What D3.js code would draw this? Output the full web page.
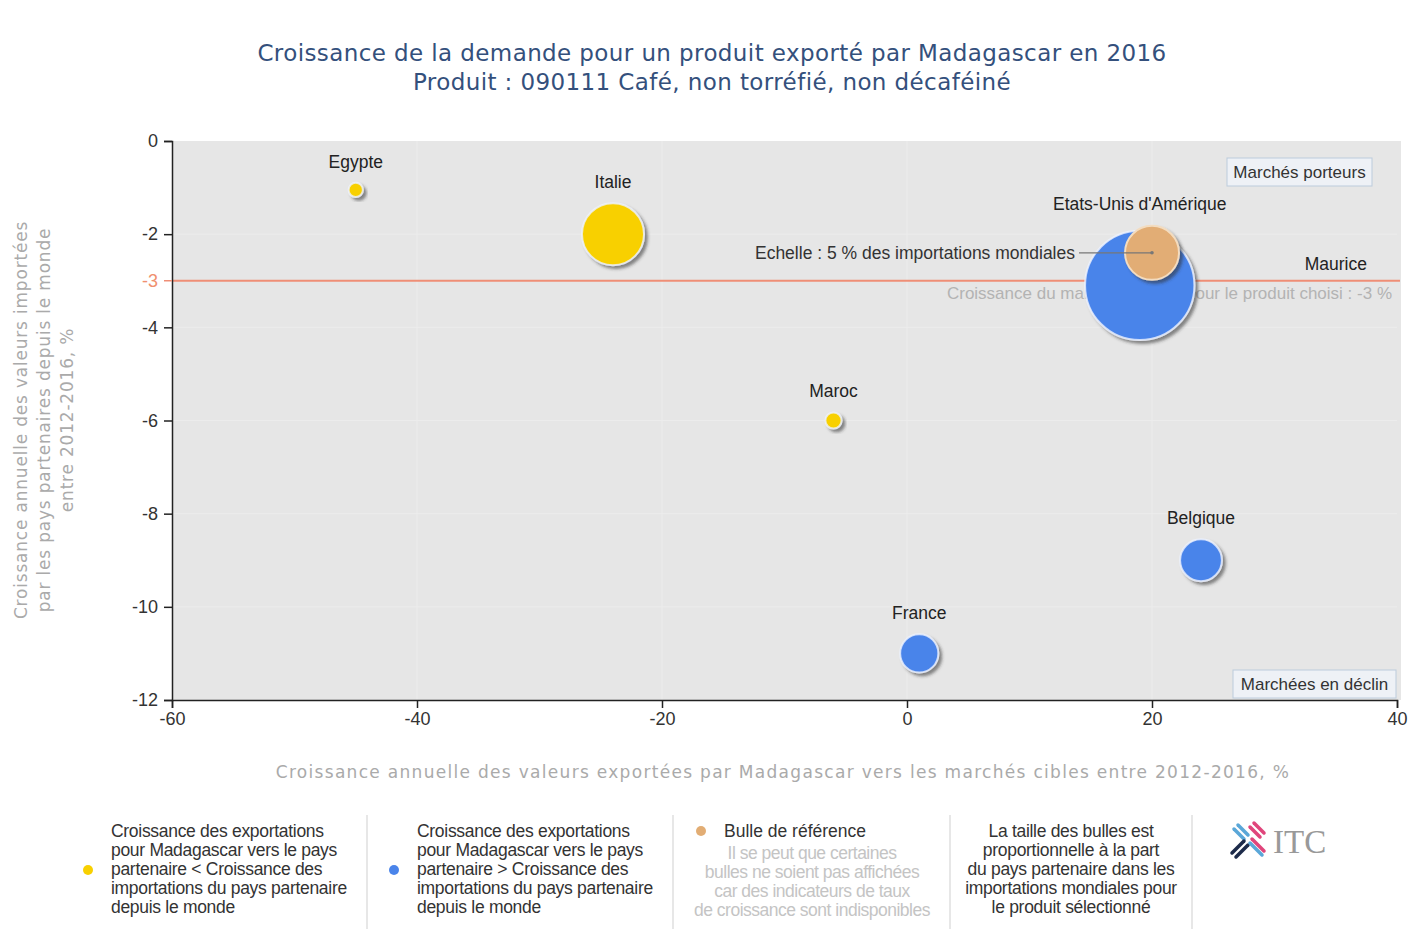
<!DOCTYPE html>
<html><head><meta charset="utf-8">
<script src="https://cdn.jsdelivr.net/npm/d3@7"></script>
<style>
body{margin:0;background:#fff;}
svg{display:block;}
</style></head>
<body><svg id="chart" width="1409" height="929"></svg>
<script>
// ---- data ----
const countries = ["Egypte","Italie","Maroc","Etats-Unis d'Amérique","Maurice","Belgique","France"];
const exportGrowth = [-45,-24,-6,19,35,24,1];          // x, %
const importGrowth = [-1.05,-2,-6,-3.1,-3.1,-9,-11];    // y, %
const worldShare   = [0.35,6.6,0.45,20.5,0,3,2.5];      // % of world imports
const group        = ["lower","lower","lower","higher","higher","higher","higher"];
const refBubble = {x:20, y:-2.4, share:5};
const worldGrowth = -3;
const xTicks = [-60,-40,-20,0,20,40];
const yTicks = [0,-2,-4,-6,-8,-10,-12];
const titleLines = ["Croissance de la demande pour un produit exporté par Madagascar en 2016","Produit : 090111 Café, non torréfié, non décaféiné"];
const xTitle = "Croissance annuelle des valeurs exportées par Madagascar vers les marchés cibles entre 2012-2016, %";
const yTitleLines = ["Croissance annuelle des valeurs importées","par les pays partenaires depuis le monde","entre 2012-2016, %"];

const svg = d3.select("#chart");
const font = "'Liberation Sans', Arial, sans-serif";
const wide = "'DejaVu Sans', Verdana, sans-serif";
const L=172,R=1397,T=141,B=700;
const x = d3.scaleLinear().domain([-60,40]).range([L,R]);
const y = d3.scaleLinear().domain([0,-12]).range([T,B]);
const r = d3.scaleSqrt().domain([0,5]).range([0,27]);
const colors = {lower:"#f8d000", higher:"#4a84ea", ref:"#e2ad74"};
const fmt = d => String(d);

const defs = svg.append("defs");
const f = defs.append("filter").attr("id","sh").attr("x","-30%").attr("y","-30%").attr("width","160%").attr("height","160%");
f.append("feDropShadow").attr("dx",3).attr("dy",3).attr("stdDeviation",1.8).attr("flood-color","#333").attr("flood-opacity",0.55);

// title
svg.append("g").selectAll("text").data(titleLines).join("text")
  .attr("x",712).attr("y",(d,i)=>61+i*29).attr("text-anchor","middle")
  .attr("font-family",wide).attr("font-size",23).attr("letter-spacing",0.4)
  .attr("fill","#34507c").text(d=>d);

// plot bg
svg.append("rect").attr("x",L).attr("y",T).attr("width",R-L+4).attr("height",B-T).attr("fill","#e6e6e6");
// faint grid
const g = svg.append("g");
g.selectAll("line.gx").data(xTicks.slice(1,-1)).join("line")
  .attr("x1",d=>x(d)).attr("x2",d=>x(d)).attr("y1",T).attr("y2",B).attr("stroke","#ececec").attr("stroke-width",1);
g.selectAll("line.gy").data(yTicks.slice(1,-1)).join("line")
  .attr("x1",L).attr("x2",R).attr("y1",d=>y(d)).attr("y2",d=>y(d)).attr("stroke","#ececec").attr("stroke-width",1);

// world growth line
svg.append("line").attr("x1",L).attr("x2",R+3).attr("y1",y(worldGrowth)).attr("y2",y(worldGrowth))
  .attr("stroke","#ef8e76").attr("stroke-width",2);
svg.append("text").attr("x",1392).attr("y",y(worldGrowth)+18).attr("text-anchor","end")
  .attr("font-family",font).attr("font-size",17).attr("fill","#b3b3b3")
  .text("Croissance du marché mondial pour le produit choisi : -3 %");

// quadrant labels
function box(txt,x0,y0,w,h){
  svg.append("rect").attr("x",x0).attr("y",y0).attr("width",w).attr("height",h)
    .attr("fill","#eef1f6").attr("stroke","#bccbdc").attr("stroke-width",1);
  svg.append("text").attr("x",x0+w/2).attr("y",y0+h/2+6).attr("text-anchor","middle")
    .attr("font-family",font).attr("font-size",17).attr("fill","#333").text(txt);
}
box("Marchés porteurs",1227,158,145,28);
box("Marchées en déclin",1233,670,163,28);

// bubbles
const data = countries.map((c,i)=>({name:c,x:exportGrowth[i],y:importGrowth[i],s:worldShare[i],g:group[i]}));
const bub = svg.append("g");
bub.selectAll("circle").data(data.filter(d=>d.s>0)).join("circle")
  .attr("cx",d=>x(d.x)).attr("cy",d=>y(d.y)).attr("r",d=>r(d.s))
  .attr("fill",d=>colors[d.g]).attr("stroke","#eef3ff").attr("stroke-opacity",0.8).attr("stroke-width",2)
  .attr("filter","url(#sh)");
// reference bubble
svg.append("circle").attr("cx",x(refBubble.x)).attr("cy",y(refBubble.y)).attr("r",r(refBubble.share))
  .attr("fill",colors.ref).attr("stroke","#f3dcc0").attr("stroke-width",2).attr("filter","url(#sh)");
svg.append("line").attr("x1",1079).attr("x2",x(refBubble.x)).attr("y1",y(refBubble.y)).attr("y2",y(refBubble.y))
  .attr("stroke","#777").attr("stroke-width",1.2);
svg.append("circle").attr("cx",x(refBubble.x)).attr("cy",y(refBubble.y)).attr("r",1.8).attr("fill","#777");
svg.append("text").attr("x",1075).attr("y",y(refBubble.y)+6).attr("text-anchor","end")
  .attr("font-family",font).attr("font-size",17.5).attr("fill","#333")
  .text("Echelle : 5 % des importations mondiales");

// labels
svg.append("g").selectAll("text").data(data).join("text")
  .attr("x",d=>x(d.x)).attr("y",d=>y(d.y)-r(d.s)-15 - (d.s>10?6:0)).attr("text-anchor","middle")
  .attr("font-family",font).attr("font-size",17.5).attr("fill","#222")
  .text(d=>d.name);

// axes
const yAxis = svg.append("g").attr("transform",`translate(${L},0)`)
  .call(d3.axisLeft(y).tickValues(yTicks).tickSize(8).tickFormat(fmt));
const xAxis = svg.append("g").attr("transform",`translate(0,${B})`)
  .call(d3.axisBottom(x).tickValues(xTicks).tickSize(8).tickFormat(fmt));
[xAxis,yAxis].forEach(a=>{
  a.select(".domain").attr("stroke","#222").attr("stroke-width",1.5);
  a.selectAll(".tick line").attr("stroke","#222").attr("stroke-width",1.5);
  a.selectAll(".tick text").attr("font-family",font).attr("font-size",18).attr("fill","#333");
});
yAxis.selectAll(".tick text").attr("x",-14);
xAxis.selectAll(".tick text").attr("y",12);
// -3 tick
const t3 = svg.append("g").attr("transform",`translate(${L},${y(worldGrowth)})`);
t3.append("line").attr("x1",-8).attr("x2",0).attr("stroke","#ef8e76").attr("stroke-width",1.5);
t3.append("text").attr("x",-14).attr("dy","0.32em").attr("text-anchor","end")
  .attr("font-family",font).attr("font-size",18).attr("fill","#f0906f").text(fmt(worldGrowth));

// axis titles
svg.append("text").attr("x",783).attr("y",778).attr("text-anchor","middle")
  .attr("font-family",wide).attr("font-size",17).attr("letter-spacing",1.3).attr("fill","#aaaaaa").text(xTitle);
svg.append("g").attr("transform","translate(44,420) rotate(-90)").selectAll("text").data(yTitleLines).join("text")
  .attr("x",0).attr("y",(d,i)=>(i-1)*23+6).attr("text-anchor","middle")
  .attr("font-family",wide).attr("font-size",17).attr("letter-spacing",0.8).attr("fill","#aaaaaa").text(d=>d);

// legend
const leg = svg.append("g").attr("font-family",font).attr("font-size",17.5);
[367,673,950,1192].forEach(xx=>leg.append("line").attr("x1",xx).attr("x2",xx).attr("y1",815).attr("y2",929).attr("stroke","#cfcfcf"));
const col1 = ["Croissance des exportations","pour Madagascar vers le pays","partenaire < Croissance des","importations du pays partenaire","depuis le monde"];
const col2 = ["Croissance des exportations","pour Madagascar vers le pays","partenaire > Croissance des","importations du pays partenaire","depuis le monde"];
const col3 = ["Il se peut que certaines","bulles ne soient pas affichées","car des indicateurs de taux","de croissance sont indisponibles"];
const col4 = ["La taille des bulles est","proportionnelle à la part","du pays partenaire dans les","importations mondiales pour","le produit sélectionné"];
function lines(arr,x0,y0,anchor,fill,ls){
  leg.append("g").selectAll("text").data(arr).join("text").attr("x",x0).attr("y",(d,i)=>y0+i*19)
    .attr("text-anchor",anchor).attr("fill",fill).attr("letter-spacing",ls||0).text(d=>d);
}
leg.append("circle").attr("cx",88).attr("cy",870).attr("r",5).attr("fill",colors.lower);
lines(col1,111,837,"start","#333",-0.3);
leg.append("circle").attr("cx",394).attr("cy",870).attr("r",5).attr("fill",colors.higher);
lines(col2,417,837,"start","#333",-0.3);
leg.append("circle").attr("cx",701).attr("cy",831).attr("r",5).attr("fill",colors.ref);
lines(["Bulle de référence"],724,837,"start","#333");
lines(col3,812,859,"middle","#c4c4c4",-0.5);
lines(col4,1071,837,"middle","#333",-0.3);

// ITC logo
const logo = svg.append("g").attr("transform","translate(1248,841)");
const strokes = [[-14,-12,-4,-2,"#5aa7d8"],[-10,-16,0,-6,"#5aa7d8"],[2,-14,12,-4,"#e0457b"],[6,-18,16,-8,"#e0457b"],
  [-16,12,-4,0,"#1d2b4a"],[-12,16,0,4,"#1d2b4a"],[2,2,14,14,"#5aa7d8"],[4,-2,16,10,"#e0457b"]];
logo.selectAll("line").data(strokes).join("line").attr("x1",d=>d[0]).attr("y1",d=>d[1]).attr("x2",d=>d[2]).attr("y2",d=>d[3])
  .attr("stroke",d=>d[4]).attr("stroke-width",3.5).attr("stroke-linecap","round");
svg.append("text").attr("x",1273).attr("y",853).attr("font-family","'Liberation Serif',serif").attr("font-size",33)
  .attr("fill","#999").text("ITC");
</script></body></html>
